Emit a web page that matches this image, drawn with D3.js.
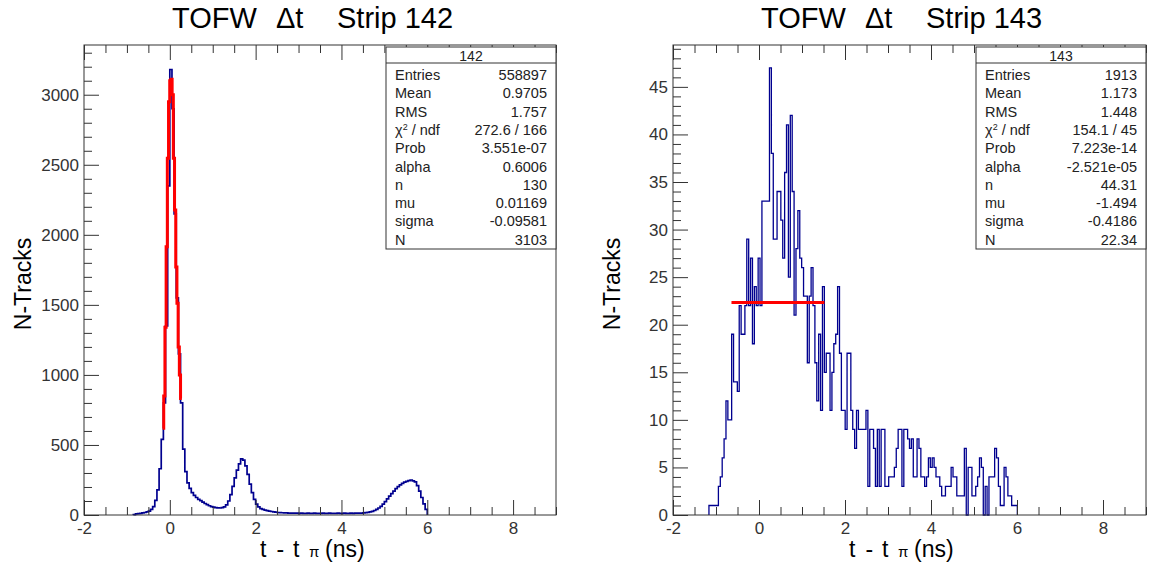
<!DOCTYPE html>
<html>
<head>
<meta charset="utf-8">
<script src="https://cdn.jsdelivr.net/npm/d3@7"></script>
<style>
body { margin: 0; background: #fff; }
svg text { font-family: "Liberation Sans", Arial, sans-serif; }
</style>
</head>
<body>
<script>
const svgWidth = 1149;
const svgHeight = 568;

// ---------- data ----------
const xMajorTicks = [-2, 0, 2, 4, 6, 8];
const leftYTicks = [0, 500, 1000, 1500, 2000, 2500, 3000];
const rightYTicks = [0, 5, 10, 15, 20, 25, 30, 35, 40, 45];

// strip 142: fine histogram, bins of 0.05 ns starting at -0.85
const leftBinLow = -0.85;
const leftBinWidth = 0.05;
const leftCounts = [
	3, 8, 10, 12, 15, 18, 22, 28, 40, 60,
	105, 180, 330, 540, 800, 1350, 2350, 3180, 2900, 2150,
	1550, 1150, 800, 470, 310, 230, 190, 160, 140, 125,
	112, 102, 92, 82, 74, 66, 60, 56, 53, 51,
	50, 52, 58, 72, 100, 145, 205, 265, 320, 365,
	400, 392, 350, 290, 220, 160, 112, 78, 58, 46,
	40, 35, 31, 28, 25, 22, 20, 18, 17, 16,
	15, 15, 14, 14, 13, 13, 13, 12, 13, 12,
	12, 13, 12, 12, 13, 12, 12, 12, 13, 12,
	12, 13, 12, 12, 12, 13, 12, 12, 13, 12,
	12, 13, 12, 13, 13, 14, 14, 15, 17, 19,
	22, 26, 32, 40, 50, 62, 78, 96, 115, 135,
	152, 170, 188, 203, 215, 226, 235, 240, 245, 250,
	244, 236, 210, 170, 125, 80, 40
];
// fit function of strip 142 as drawn (steps)
const leftFitLow = -0.17;
const leftFitWidth = 0.028;
const leftFitValues = [620, 850, 1340, 1915, 2546, 2950, 3100, 3110, 3000, 2546, 2177, 1770, 1511, 1200, 1000, 832];

// strip 143: bins of 0.044 ns starting at -1.164
const rightBinLow = -1.164;
const rightBinWidth = 0.044;
const rightCounts = [
	1, 1, 1, 1, 1, 3, 4, 6, 8, 12,
	10, 10, 19, 14, 14, 13, 22, 19, 19, 22,
	29, 22, 27, 18, 24, 22, 27, 22, 33, 33,
	33, 33, 47, 38, 29, 29, 34, 34, 31, 27,
	36, 41, 25, 42, 34, 21, 28, 32, 27, 26,
	23, 23, 16, 23, 26, 22, 16, 12, 19, 11,
	24, 15, 17, 17, 11, 15, 18, 19, 24, 17,
	11, 11, 9, 17, 17, 11, 9, 7, 11, 9,
	9, 9, 9, 11, 3, 9, 9, 7, 3, 9,
	3, 9, 9, 3, 3, 4, 4, 4, 5, 7,
	9, 9, 3, 9, 9, 8, 7, 8, 4, 4,
	8, 7, 4, 4, 3, 4, 6, 5, 6, 5,
	4, 4, 3, 2, 2, 3, 3, 3, 5, 4,
	4, 2, 2, 2, 2, 7, 0, 5, 5, 2,
	2, 3, 4, 6, 5, 0, 3, 0, 4, 4,
	4, 7, 6, 3, 1, 1, 5, 4, 2, 2,
	1, 1, 1
];
const rightFitRange = [-0.64, 1.52];
const rightFitValue = 22.34;

const statNames = ["Entries", "Mean", "RMS", "chi", "Prob", "alpha", "n", "mu", "sigma", "N"];
const leftStats = ["558897", "0.9705", "1.757", "272.6 / 166", "3.551e-07", "0.6006", "130", "0.01169", "-0.09581", "3103"];
const rightStats = ["1913", "1.173", "1.448", "154.1 / 45", "7.223e-14", "-2.521e-05", "44.31", "-1.494", "-0.4186", "22.34"];

// ---------- drawing ----------
const svg = d3.select("body")
	.append("svg")
	.attr("width", svgWidth)
	.attr("height", svgHeight);

const frameTop = 45;
const frameBottom = 515;
const axisColor = "#333";
const histColor = "#00008f";
const plainNum = (v) => String(v); // ROOT prints a plain hyphen for negatives

const panels = [
	{ strip: "142", left: 84, right: 556, yMax: 3355, yTicks: leftYTicks, yMinor: 100,
		binLow: leftBinLow, binWidth: leftBinWidth, counts: leftCounts, stats: leftStats, dx: 0 },
	{ strip: "143", left: 673, right: 1146, yMax: 49.4, yTicks: rightYTicks, yMinor: 1,
		binLow: rightBinLow, binWidth: rightBinWidth, counts: rightCounts, stats: rightStats, dx: 589 },
];

// turn counts into a step outline (histogram contour)
const histPoints = (low, w, counts) => {
	const pts = [[low, 0]];
	counts.forEach((c, i) => {
		pts.push([low + i * w, c]);
		pts.push([low + (i + 1) * w, c]);
	});
	pts.push([low + counts.length * w, 0]);
	return pts;
};

panels.forEach((p, pi) => {
	const g = svg.append("g");
	const xScale = d3.scaleLinear().domain([-2, 9]).range([p.left, p.right]);
	const yScale = d3.scaleLinear().domain([0, p.yMax]).range([frameBottom, frameTop]);
	const line = d3.line().x((d) => xScale(d[0])).y((d) => yScale(d[1]));

	// histogram
	g.append("path")
		.attr("d", line(histPoints(p.binLow, p.binWidth, p.counts)))
		.attr("fill", "none")
		.attr("stroke", histColor)
		.attr("stroke-width", pi === 0 ? 1.7 : 1.3);

	// fit
	if (pi === 0) {
		const fitPts = [];
		leftFitValues.forEach((v, i) => {
			fitPts.push([leftFitLow + i * leftFitWidth, v]);
			fitPts.push([leftFitLow + (i + 1) * leftFitWidth, v]);
		});
		g.append("path")
			.attr("d", line(fitPts))
			.attr("fill", "none")
			.attr("stroke", "#ff0000")
			.attr("stroke-width", 3);
	} else {
		g.append("path")
			.attr("d", line(rightFitRange.map((x) => [x, rightFitValue])))
			.attr("fill", "none")
			.attr("stroke", "#ff0000")
			.attr("stroke-width", 3);
	}

	// axes: ticks point inside the frame, like ROOT
	const xMinor = d3.range(-2, 9.01, 0.5).filter((v) => v % 2 !== 0);
	const yMinor = d3.range(0, p.yMax, p.yMinor).filter((v) => !p.yTicks.includes(v));

	const styleAxis = (sel) => {
		sel.select(".domain").remove();
		sel.selectAll(".tick line").attr("stroke", axisColor);
		sel.selectAll(".tick text")
			.attr("fill", axisColor)
			.style("font-size", "17px");
	};

	g.append("g")
		.attr("transform", `translate(0 ${frameBottom})`)
		.call(d3.axisBottom(xScale).tickValues(xMajorTicks).tickSize(-15).tickPadding(7).tickFormat(plainNum))
		.call(styleAxis);
	g.append("g")
		.attr("transform", `translate(0 ${frameBottom})`)
		.call(d3.axisBottom(xScale).tickValues(xMinor).tickSize(-8).tickFormat(""))
		.call(styleAxis);
	g.append("g")
		.attr("transform", `translate(0 ${frameTop})`)
		.call(d3.axisTop(xScale).tickValues(xMajorTicks).tickSize(-15).tickFormat(""))
		.call(styleAxis);
	g.append("g")
		.attr("transform", `translate(0 ${frameTop})`)
		.call(d3.axisTop(xScale).tickValues(xMinor).tickSize(-8).tickFormat(""))
		.call(styleAxis);
	g.append("g")
		.attr("transform", `translate(${p.left} 0)`)
		.call(d3.axisLeft(yScale).tickValues(p.yTicks).tickSize(-15).tickPadding(5).tickFormat(plainNum))
		.call(styleAxis);
	g.append("g")
		.attr("transform", `translate(${p.left} 0)`)
		.call(d3.axisLeft(yScale).tickValues(yMinor).tickSize(-8).tickFormat(""))
		.call(styleAxis);

	// frame
	g.append("rect")
		.attr("x", p.left)
		.attr("y", frameTop)
		.attr("width", p.right - p.left)
		.attr("height", frameBottom - frameTop)
		.attr("fill", "none")
		.attr("stroke", axisColor)
		.attr("stroke-width", 1);

	// title
	const title = g.append("text").attr("y", 28).style("font-size", "29px").attr("fill", "#000");
	title.append("tspan").attr("x", 172 + p.dx).text("TOFW");
	title.append("tspan").attr("x", 276 + p.dx).text("\u0394t");
	title.append("tspan").attr("x", 337 + p.dx).text(`Strip ${p.strip}`);

	// axis titles
	g.append("text")
		.attr("transform", `translate(${31 + p.dx} 284) rotate(-90)`)
		.attr("text-anchor", "middle")
		.style("font-size", "23px")
		.attr("fill", "#000")
		.text("N-Tracks");

	const xt = g.append("text").attr("y", 557).style("font-size", "23px").attr("fill", "#000");
	xt.append("tspan").attr("x", 260 + p.dx).text("t");
	xt.append("tspan").attr("x", 276.5 + p.dx).text("-");
	xt.append("tspan").attr("x", 293 + p.dx).text("t");
	xt.append("tspan").attr("x", 309 + p.dx).attr("y", 557).style("font-size", "15px").text("\u03c0");
	xt.append("tspan").attr("x", 325 + p.dx).attr("y", 557).text("(ns)");

	// stats box
	const bx = p.right - 170;
	const by = 47;
	const stat = g.append("g");
	stat.append("rect")
		.attr("x", bx)
		.attr("y", by)
		.attr("width", 170)
		.attr("height", 202)
		.attr("fill", "#fff")
		.attr("stroke", axisColor)
		.attr("stroke-width", 1);
	stat.append("line")
		.attr("x1", bx)
		.attr("x2", bx + 170)
		.attr("y1", 63)
		.attr("y2", 63)
		.attr("stroke", axisColor);
	stat.append("text")
		.attr("x", bx + 85)
		.attr("y", 61)
		.attr("text-anchor", "middle")
		.style("font-size", "14px")
		.attr("fill", "#222")
		.text(p.strip);

	statNames.forEach((name, i) => {
		const yy = 80 + i * 18.3;
		const label = stat.append("text")
			.attr("x", bx + 9)
			.attr("y", yy)
			.style("font-size", "14.5px")
			.attr("fill", "#222");
		if (name === "chi") {
			label.append("tspan").text("\u03c7");
			label.append("tspan").attr("dy", -5).style("font-size", "9px").text("2");
			label.append("tspan").attr("dy", 5).text(" / ndf");
		} else {
			label.text(name);
		}
		stat.append("text")
			.attr("x", bx + 161)
			.attr("y", yy)
			.attr("text-anchor", "end")
			.style("font-size", "14.5px")
			.attr("fill", "#222")
			.text(p.stats[i]);
	});
});
</script>
</body>
</html>
